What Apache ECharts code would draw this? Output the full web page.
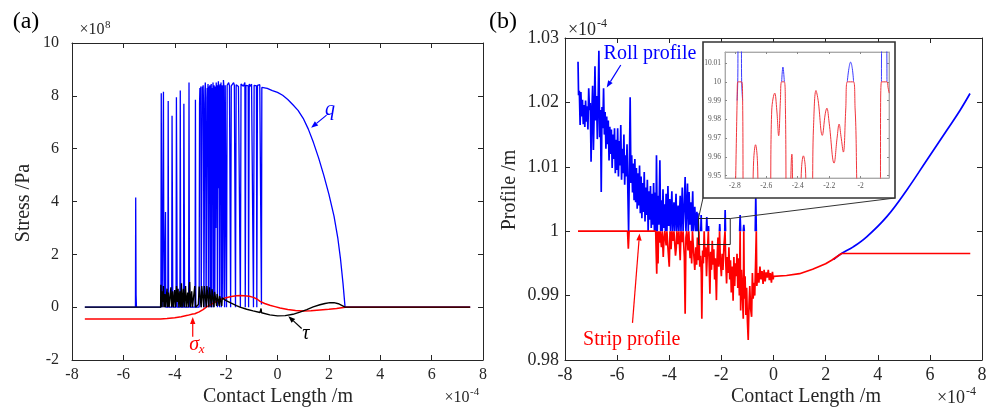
<!DOCTYPE html>
<html><head><meta charset="utf-8">
<script src="https://cdn.jsdelivr.net/npm/echarts@6/dist/echarts.min.js"></script>
<style>html,body{margin:0;padding:0;background:#fff}#main{width:997px;height:411px}</style>
</head><body><div id="main"></div>
<script>
// ---------------- DATA ----------------
// Panel (a): contact length (x1e-4 m) vs stress (x1e8 Pa)
const stressQ = [
[-7.5,0],[-5.53,0],[-5.52,4.15],[-5.505,0.45],[-5.49,0],
[-4.54,0],[-4.525,8.1],[-4.51,0.9],[-4.49,0],
[-4.455,0],[-4.44,8.15],[-4.425,2.0],[-4.41,0],
[-4.37,0],[-4.36,3.6],[-4.35,0],
[-4.27,0],[-4.255,7.8],[-4.24,0.5],[-4.225,0],
[-4.12,0],[-4.105,7.25],[-4.09,3.8],[-4.075,0],
[-3.95,0],[-3.935,7.95],[-3.92,4.4],[-3.905,0],
[-3.80,0],[-3.785,8.2],[-3.77,1.0],[-3.755,0],
[-3.66,0],[-3.645,7.7],[-3.63,3.9],[-3.615,0],
[-3.46,0],[-3.445,8.5],[-3.43,1.5],[-3.415,0],
[-3.21,0],[-3.195,7.85],[-3.18,0],
[-3.05,0],[-3.035,7.7],[-3.02,8.3],[-3.0,7.75],[-2.985,8.35],[-2.97,0],
[-2.94,0],[-2.925,8.35],[-2.91,7.9],[-2.895,8.4],[-2.88,7.7],[-2.865,0],
[-2.84,0],[-2.825,8.2],[-2.81,8.5],[-2.795,7.95],[-2.78,0],
[-2.75,0],[-2.735,8.3],[-2.72,8.0],[-2.705,8.45],[-2.69,0],
[-2.665,8.35],[-2.65,6.2],[-2.635,8.4],[-2.62,0],
[-2.595,8.2],[-2.58,8.45],[-2.565,0],
[-2.54,8.3],[-2.525,7.2],[-2.51,8.5],[-2.495,0],
[-2.47,8.4],[-2.455,8.2],[-2.44,0.2],
[-2.415,8.35],[-2.40,3.0],[-2.385,8.5],[-2.37,5.2],[-2.355,8.4],[-2.34,0],
[-2.315,8.3],[-2.30,8.55],[-2.285,4.5],[-2.27,8.4],[-2.255,0],
[-2.23,8.45],[-2.215,5.9],[-2.20,8.5],[-2.185,0],
[-2.16,8.4],[-2.145,8.3],[-2.13,0.3],
[-2.105,8.6],[-2.09,8.4],[-2.075,8.45],[-2.06,0],
[-2.035,8.4],[-2.02,8.35],[-2.0,8.45],[-1.985,0],
[-1.96,8.4],[-1.93,8.35],[-1.9,8.5],[-1.87,8.38],[-1.84,8.42],[-1.825,0],
[-1.80,8.38],[-1.77,8.45],[-1.74,8.36],[-1.71,8.5],[-1.68,8.4],[-1.65,8.38],[-1.635,0],
[-1.61,8.42],[-1.58,8.36],[-1.55,8.44],[-1.52,8.35],[-1.49,8.42],[-1.46,8.4],[-1.445,0],
[-1.42,8.45],[-1.39,8.38],[-1.36,8.42],[-1.33,8.36],[-1.30,8.4],[-1.27,8.5],[-1.255,0],
[-1.23,8.4],[-1.20,8.35],[-1.17,8.42],[-1.14,8.38],[-1.125,0],
[-1.10,8.45],[-1.07,8.36],[-1.04,8.4],[-1.01,8.44],[-0.98,8.37],[-0.95,8.42],[-0.935,0],
[-0.91,8.4],[-0.88,8.36],[-0.85,8.45],[-0.82,8.38],[-0.805,0],
[-0.78,8.4],[-0.75,8.44],[-0.72,8.36],[-0.69,8.42],[-0.66,8.38],[-0.625,0.1],[-0.61,8.32],
[-0.4,8.28],[-0.2,8.2],[0,8.13],[0.2,8.02],[0.4,7.86],[0.6,7.66],[0.8,7.45],[1.0,7.15],
[1.2,6.74],[1.4,6.23],[1.6,5.65],[1.8,5.0],[2.0,4.28],[2.2,3.45],[2.35,2.6],[2.45,1.85],
[2.55,0.9],[2.63,0],[7.5,0]
];
const stressSigma = [
[-7.5,-0.45],[-4.55,-0.45],[-4.3,-0.43],[-4.0,-0.40],[-3.75,-0.36],[-3.5,-0.31],[-3.3,-0.26],
[-3.22,-0.25],[-3.2,-0.19],[-3.18,-0.24],[-3.05,-0.18],[-2.9,-0.09],[-2.76,0.01],[-2.6,0.10],
[-2.4,0.2],[-2.2,0.29],[-2.0,0.36],[-1.8,0.40],[-1.6,0.43],[-1.45,0.44],[-1.3,0.43],[-1.28,0.38],
[-1.26,0.43],[-1.1,0.41],[-0.94,0.37],[-0.8,0.31],[-0.68,0.22],[-0.5,0.14],[-0.3,0.07],[-0.1,0.02],
[0.1,-0.03],[0.4,-0.09],[0.7,-0.13],[1.0,-0.145],[1.3,-0.14],[1.65,-0.11],[2.0,-0.08],[2.3,-0.05],
[2.63,0],[7.5,0]
];
const stressTau = [
[-7.5,0],[-4.55,0],[-4.54,0.85],[-4.52,0.3],[-4.5,0],[-4.48,0.6],[-4.46,0.2],[-4.44,0.8],[-4.42,0],
[-4.38,0.5],[-4.36,0],[-4.3,0.7],[-4.28,0],[-4.25,0.55],[-4.22,0],[-4.15,0.75],[-4.12,0],[-4.08,0.6],
[-4.05,0],[-4.0,0.65],[-3.97,0],[-3.93,0.8],[-3.9,0.2],[-3.87,0.7],[-3.84,0],[-3.8,0.6],[-3.77,0],
[-3.74,0.9],[-3.71,0],[-3.66,0.7],[-3.63,0],[-3.58,0.8],[-3.55,0],[-3.5,0.55],[-3.47,0],[-3.42,0.95],
[-3.39,0],[-3.34,0.6],[-3.31,0],[-3.22,0.8],[-3.19,0],[-3.08,0.1],[-3.05,0.78],[-3.0,0.8],[-2.97,0],
[-2.95,0.8],[-2.9,0.82],[-2.87,0],[-2.85,0.8],[-2.8,0.8],[-2.77,0],[-2.75,0.8],[-2.7,0.78],[-2.67,0],
[-2.65,0.75],[-2.6,0.72],[-2.57,0],[-2.55,0.68],[-2.5,0.62],[-2.47,0],[-2.45,0.58],[-2.4,0.52],
[-2.37,0.05],[-2.35,0.5],[-2.3,0.45],[-2.27,0.05],[-2.25,0.42],[-2.2,0.38],[-2.17,0.05],[-2.15,0.35],
[-2.1,0.31],[-2.0,0.25],[-1.8,0.15],[-1.6,0.06],[-1.46,0.0],[-1.2,-0.08],[-0.95,-0.14],[-0.68,-0.2],
[-0.64,-0.05],[-0.62,-0.21],[-0.3,-0.29],[0.0,-0.33],[0.3,-0.32],[0.6,-0.27],[0.87,-0.19],[1.14,-0.09],
[1.39,0.01],[1.65,0.09],[1.85,0.14],[2.04,0.17],[2.2,0.17],[2.37,0.13],[2.5,0.07],[2.63,0],[7.5,0]
];

// Panel (b): contact length (x1e-4 m) vs profile (x1e-4 m)
const rollProfile = [
[-7.5,1.0263],[-7.48,1.0211],[-7.45,1.0218],[-7.42,1.0165],[-7.39,1.0216],[-7.36,1.0178],[-7.33,1.0204],
[-7.3,1.0166],[-7.27,1.0196],[-7.24,1.0162],[-7.21,1.0203],[-7.18,1.0170],[-7.15,1.0194],[-7.12,1.0158],
[-7.09,1.0222],[-7.06,1.0188],[-7.03,1.0199],[-7.0,1.0108],[-6.97,1.0185],[-6.94,1.0226],[-6.91,1.0126],
[-6.88,1.0183],[-6.85,1.0256],[-6.82,1.0172],[-6.79,1.0210],[-6.76,1.0143],[-6.73,1.0198],[-6.7,1.0280],
[-6.67,1.0146],[-6.64,1.0188],[-6.61,1.0061],[-6.58,1.0193],[-6.55,1.0160],[-6.52,1.0222],[-6.49,1.0150],
[-6.46,1.0185],[-6.43,1.0128],[-6.4,1.0178],[-6.37,1.0135],[-6.34,1.0172],[-6.31,1.0110],[-6.28,1.0162],
[-6.25,1.0120],[-6.22,1.0158],[-6.19,1.0098],[-6.16,1.0150],[-6.13,1.0112],[-6.1,1.0160],[-6.07,1.0090],
[-6.04,1.0142],[-6.01,1.0095],[-5.98,1.0160],[-5.95,1.0085],[-5.92,1.0140],[-5.89,1.0102],[-5.86,1.0165],
[-5.83,1.0080],[-5.8,1.0128],[-5.77,1.0090],[-5.74,1.0150],[-5.71,1.0072],[-5.68,1.0118],[-5.65,1.0085],
[-5.62,1.0135],[-5.59,1.0065],[-5.56,1.0],[-5.53,1.0098],[-5.5,1.0208],[-5.47,1.0075],[-5.44,1.0118],
[-5.41,1.0060],[-5.38,1.0105],[-5.35,1.0048],[-5.32,1.0112],[-5.29,1.0045],[-5.26,1.0098],[-5.23,1.0035],
[-5.2,1.0090],[-5.17,1.0040],[-5.14,1.0102],[-5.11,1.0028],[-5.08,1.0085],[-5.05,1.0020],[-5.02,1.0075],
[-4.99,1.0030],[-4.96,1.0092],[-4.93,1.0015],[-4.9,1.0068],[-4.87,1.0025],[-4.84,1.0080],[-4.81,1.0],
[-4.78,1.0062],[-4.75,1.0018],[-4.72,1.0070],[-4.69,1.0005],[-4.66,1.0058],[-4.63,1.0010],[-4.6,1.0075],
[-4.57,1.0],[-4.54,1.0060],[-4.51,1.0],[-4.49,1.0118],[-4.46,1.0],[-4.43,1.0055],[-4.4,1.0010],
[-4.36,1.0110],[-4.33,1.0],[-4.3,1.0048],[-4.27,1.0],[-4.24,1.0065],[-4.21,1.0005],[-4.18,1.0042],
[-4.15,1.0],[-4.12,1.0058],[-4.09,1.0],[-4.05,1.0070],[-4.02,1.0008],[-3.98,1.0050],[-3.95,1.0],
[-3.9,1.0062],[-3.87,1.0],[-3.82,1.0045],[-3.79,1.0],[-3.74,1.0058],[-3.71,1.0],[-3.66,1.0040],[-3.63,1.0],
[-3.58,1.0055],[-3.55,1.0],[-3.5,1.0068],[-3.47,1.0],[-3.42,1.0045],[-3.39,1.0084],[-3.36,1.0],
[-3.3,1.0074],[-3.27,1.0],[-3.24,1.0061],[-3.2,1.0010],[-3.17,1.0045],[-3.14,1.0],[-3.1,1.0062],
[-3.07,1.0],[-3.02,1.0038],[-2.98,1.0],[-2.94,1.0030],[-2.92,1.0],[-2.9,1.0028],[-2.87,1.0],[-2.86,null],
[-2.79,1.0],[-2.775,1.0025],[-2.76,1.0],[-2.755,null],
[-2.58,1.0],[-2.56,1.0022],[-2.54,1.0],[-2.535,null],
[-2.50,1.0],[-2.494,1.0008],[-2.485,1.0],[-2.48,null],
[-2.075,1.0],[-2.064,1.0011],[-2.05,1.0],[-2.045,null],
[-1.87,1.0],[-1.855,1.0033],[-1.84,1.0],[-1.835,null],
[-1.3,1.0],[-1.28,1.0025],[-1.26,1.0],[-1.255,null],
[-1.16,1.0],[-1.14,1.0010],[-1.12,1.0],[-1.115,null],
[-0.7,1.0],[-0.68,1.0056],[-0.66,1.0]
];
const rollProfileTail = [
[2.3,0.9956],[2.61,0.99654],[3.06,0.99756],[3.575,0.99912],[4.34,1.00222],[5.11,1.00637],
[5.88,1.01102],[6.65,1.01568],[7.16,1.01879],[7.54,1.02138]
];
const stripProfile = [
[-7.5,1.0],[-5.6,1.0],[-5.57,0.9973],[-5.54,1.0],[-4.52,1.0],
[-4.5,0.9965],[-4.48,0.9934],[-4.46,1.0],[-4.43,0.9950],[-4.41,1.0],[-4.38,0.9982],[-4.35,1.0],
[-4.3,0.9975],[-4.27,1.0],[-4.23,0.9960],[-4.2,0.9990],[-4.17,1.0],[-4.12,0.9978],[-4.09,1.0],
[-4.04,0.9968],[-4.0,0.9945],[-3.97,1.0],[-3.93,0.9972],[-3.9,1.0],[-3.85,0.9985],[-3.82,1.0],
[-3.76,0.9962],[-3.73,0.9975],[-3.71,1.0],[-3.66,0.9980],[-3.63,1.0],[-3.58,0.9955],[-3.55,1.0],
[-3.5,0.9983],[-3.47,1.0],[-3.42,0.9960],[-3.39,0.9872],[-3.36,0.9990],[-3.33,1.0],[-3.28,0.9970],
[-3.25,1.0],[-3.2,0.9958],[-3.17,0.9985],[-3.14,0.9950],[-3.11,1.0],[-3.06,0.9965],[-3.02,0.9940],
[-2.98,0.9975],[-2.95,0.9948],[-2.92,0.9990],[-2.89,0.9955],[-2.86,1.0],[-2.83,0.9945],[-2.8,0.9962],
[-2.77,0.9935],[-2.75,0.9864],[-2.72,0.9970],[-2.69,0.9950],[-2.66,1.0],[-2.63,0.9960],[-2.6,0.9975],
[-2.57,0.9930],[-2.54,0.9965],[-2.5,1.0],[-2.47,0.9952],[-2.44,0.9903],[-2.41,0.9968],[-2.38,0.9940],
[-2.35,0.9985],[-2.32,0.9948],[-2.29,0.9972],[-2.26,0.9925],[-2.23,0.9958],[-2.19,0.9893],[-2.16,0.9962],
[-2.13,0.9990],[-2.1,0.9945],[-2.07,1.0],[-2.04,0.9955],[-2.0,0.9930],[-1.97,0.9965],[-1.94,0.9940],
[-1.9,0.9978],[-1.86,1.0],[-1.83,0.9950],[-1.8,0.9919],[-1.77,0.9960],[-1.74,0.9935],[-1.71,0.9975],
[-1.68,0.9925],[-1.65,0.9955],[-1.62,0.9905],[-1.58,0.9945],[-1.55,0.9892],[-1.52,0.9960],[-1.49,0.9915],
[-1.46,0.9950],[-1.43,0.9930],[-1.4,0.9965],[-1.37,0.9912],[-1.34,0.9958],[-1.31,0.9900],[-1.28,1.0],
[-1.26,0.9877],[-1.23,0.9940],[-1.2,0.9910],[-1.16,0.9864],[-1.14,1.0],[-1.12,0.9895],[-1.09,0.9930],
[-1.06,0.9870],[-1.03,0.9912],[-1.0,0.9860],[-0.97,0.9831],[-0.94,0.9885],[-0.91,0.9915],[-0.88,0.9880],
[-0.84,0.9867],[-0.81,0.9935],[-0.78,0.9895],[-0.75,0.9920],[-0.72,0.9900],[-0.69,0.9945],[-0.66,1.0],
[-0.64,0.9915],[-0.6,0.9935],[-0.56,0.9920],[-0.52,0.9945],[-0.48,0.9925],[-0.44,0.9938],[-0.4,0.9918],
[-0.36,0.9940],[-0.32,0.9922],[-0.28,0.9936],[-0.24,0.9928],[-0.2,0.9940],[-0.16,0.9924],[-0.12,0.9935],
[-0.08,0.9920],[-0.04,0.9937],[-0.01,0.9925],[0,0.9930],[0.5,0.99312],[1.0,0.9934],[1.5,0.9941],
[2.0,0.99495],[2.23,0.9955],[2.61,0.99654],[7.55,0.99654]
];

// Inset of panel (b): x1e-4 m vs x1e-5 m
const insetRoll = [
[-2.785,9.99],[-2.781,10.0],[-2.777,10.03],[-2.760,10.03],[-2.756,10.0],[-2.750,9.99],[-2.749,null],
[-2.502,10.0],[-2.494,10.0079],[-2.485,10.0],[-2.484,null],
[-2.085,10.0],[-2.075,10.007],[-2.064,10.0105],[-2.053,10.007],[-2.045,10.0],[-2.044,null],
[-1.868,10.0],[-1.864,10.03],[-1.838,10.03],[-1.833,10.0]
];
const insetStrip = [
[-2.80,9.92],[-2.785,9.99],[-2.781,10.0],[-2.756,10.0],[-2.750,9.99],[-2.743,9.92],
[-2.695,9.92],[-2.68,9.958],[-2.668,9.9665],[-2.656,9.958],[-2.645,9.92],
[-2.58,9.92],[-2.565,9.985],[-2.546,9.994],[-2.533,9.985],[-2.521,9.9713],[-2.51,9.990],[-2.502,10.0],
[-2.485,10.0],[-2.478,9.985],[-2.468,9.92],
[-2.452,9.93],[-2.437,9.9615],[-2.422,9.93],
[-2.39,9.93],[-2.375,9.955],[-2.364,9.9606],[-2.352,9.955],[-2.338,9.93],
[-2.315,9.93],[-2.30,9.975],[-2.284,9.9954],[-2.27,9.990],[-2.244,9.9715],[-2.225,9.983],[-2.215,9.986],
[-2.2,9.978],[-2.169,9.9567],[-2.15,9.970],[-2.137,9.9775],[-2.125,9.971],[-2.110,9.9626],[-2.095,9.985],
[-2.085,10.0],[-2.045,10.0],[-2.035,9.985],[-2.0,9.93],
[-1.88,9.93],[-1.868,10.0],[-1.833,10.0],[-1.826,9.997],[-1.819,9.994]
];

const xTicksMain = [-8, 8, 2];
const yTicksA = [-2, 10, 2];
const yTicksB = [0.98, 1.03, 0.01];
const insetXRange = [-2.862, -1.82];
const insetYRange = [9.9488, 10.0159];
const insetXTicks = [-2.8, -2.6, -2.4, -2.2, -2];
const insetYTicks = [9.95, 9.96, 9.97, 9.98, 9.99, 10, 10.01];
const zoomBoxX = [-2.88, -1.66];
const zoomBoxY = [0.99793, 1.00197];

// ---------------- CHART ----------------
const AX = '#262626';
const FONT = '"Liberation Serif", "Times New Roman", Times, serif';
const BLUE = '#0000ff', RED = '#ff0000', BLACK = '#000000';

function mkAxis(grid, min, max, interval, pos, showLabel, fs, margin, opts) {
  opts = opts || {};
  const a = {
    type: 'value', gridIndex: grid, min: min, max: max, position: pos, scale: false,
    z: opts.z || 0,
    axisLine: { show: true, onZero: false, lineStyle: { color: opts.lineColor || AX, width: opts.lineWidth || 1 } },
    axisTick: { show: true, inside: true, length: opts.tickLen || 5, lineStyle: { color: opts.tickColor || AX, width: 1 } },
    axisLabel: { show: showLabel, color: opts.labelColor || AX, fontFamily: FONT, fontSize: fs, margin: margin,
      fontStyle: 'normal', fontWeight: 'normal',
      showMinLabel: true, showMaxLabel: true, hideOverlap: false,
      formatter: function (v) { return String(+(+v).toFixed(3)); } },
    splitLine: { show: false }
  };
  if (interval) a.interval = interval;
  if (opts.custom) {
    a.axisTick.customValues = opts.custom;
    a.axisLabel.customValues = opts.custom;
  }
  return a;
}

const chart = echarts.init(document.getElementById('main'), null, { renderer: 'canvas' });

const insetOpts = { z: 5, lineColor: '#aaa', tickColor: '#888', labelColor: '#555', tickLen: 2 };
const xAxes = [
  mkAxis(0, xTicksMain[0], xTicksMain[1], xTicksMain[2], 'bottom', true, 16, 7),
  mkAxis(0, xTicksMain[0], xTicksMain[1], xTicksMain[2], 'top', false, 16, 7),
  mkAxis(1, xTicksMain[0], xTicksMain[1], xTicksMain[2], 'bottom', true, 18, 6),
  mkAxis(1, xTicksMain[0], xTicksMain[1], xTicksMain[2], 'top', false, 18, 6),
  mkAxis(2, insetXRange[0], insetXRange[1], null, 'bottom', true, 7.5, 4, Object.assign({ custom: insetXTicks }, insetOpts)),
  mkAxis(2, insetXRange[0], insetXRange[1], null, 'top', false, 7.5, 4, Object.assign({ custom: insetXTicks }, insetOpts))
];
const yAxes = [
  mkAxis(0, yTicksA[0], yTicksA[1], yTicksA[2], 'left', true, 16, 13),
  mkAxis(0, yTicksA[0], yTicksA[1], yTicksA[2], 'right', false, 16, 13),
  mkAxis(1, yTicksB[0], yTicksB[1], yTicksB[2], 'left', true, 18, 6),
  mkAxis(1, yTicksB[0], yTicksB[1], yTicksB[2], 'right', false, 18, 6),
  mkAxis(2, insetYRange[0], insetYRange[1], null, 'left', true, 7.5, 4, Object.assign({ custom: insetYTicks }, insetOpts)),
  mkAxis(2, insetYRange[0], insetYRange[1], null, 'right', false, 7.5, 4, Object.assign({ custom: insetYTicks }, insetOpts))
];

function line(data, color, xi, yi, w, z, smooth) {
  return { type: 'line', data: data, xAxisIndex: xi, yAxisIndex: yi, showSymbol: false, symbol: 'none',
    lineStyle: { color: color, width: w }, itemStyle: { color: color }, z: z, clip: true,
    smooth: smooth || false, connectNulls: false, animation: false, silent: true };
}

chart.setOption({
  animation: false,
  backgroundColor: '#ffffff',
  textStyle: { fontFamily: FONT },
  grid: [
    { left: 72, top: 43, width: 411, height: 317, containLabel: false },
    { left: 565, top: 38, width: 417, height: 322, containLabel: false },
    { left: 725, top: 52, width: 164, height: 126, containLabel: false, show: true,
      backgroundColor: '#ffffff', borderColor: '#bbbbbb', borderWidth: 1, z: 4 }
  ],
  xAxis: xAxes,
  yAxis: yAxes,
  series: [
    line(stressQ, BLUE, 0, 0, 1.3, 2),
    line(stressSigma, RED, 0, 0, 1.5, 2),
    line(stressTau, BLACK, 0, 0, 1.4, 2),
    line(rollProfile, BLUE, 2, 2, 1.7, 2),
    line(rollProfileTail, BLUE, 2, 2, 1.7, 2, 0.4),
    line(stripProfile, RED, 2, 2, 1.7, 2),
    line(insetRoll, '#3b3bff', 4, 4, 1, 6, 0.4),
    line(insetStrip, '#f0353c', 4, 4, 1, 6, 0.4)
  ]
});

// ---------------- ANNOTATIONS ----------------
function P(ax, pt) { return chart.convertToPixel({ xAxisIndex: ax, yAxisIndex: ax }, pt); }
function txt(x, y, s, font, fill, align, rot, z) {
  return { type: 'text', x: x, y: y, rotation: rot || 0, z: z || 10,
    style: { text: s, font: font, fill: fill, align: align || 'center', verticalAlign: 'middle' } };
}
function arrow(p1, p2, color, head, w) {
  head = head || 7; w = w || 1;
  const ang = Math.atan2(p2[1] - p1[1], p2[0] - p1[0]);
  const hx = p2[0] - head * Math.cos(ang), hy = p2[1] - head * Math.sin(ang);
  const px = -Math.sin(ang) * head * 0.38, py = Math.cos(ang) * head * 0.38;
  return [
    { type: 'line', z: 10, shape: { x1: p1[0], y1: p1[1], x2: hx, y2: hy }, style: { stroke: color, lineWidth: w } },
    { type: 'polygon', z: 10, shape: { points: [[p2[0], p2[1]], [hx + px, hy + py], [hx - px, hy - py]] }, style: { fill: color } }
  ];
}

const serif = function (sz, it) { return (it ? 'italic ' : '') + sz + 'px ' + FONT; };
const g = [];
g.push(txt(26, 22, '(a)', serif(24), '#000'));
g.push(txt(503, 22, '(b)', serif(24), '#000'));
// exponents
g.push(txt(92, 30, '×10', serif(16), AX));
g.push(txt(105, 25, '8', serif(11), AX, 'left'));
g.push(txt(457, 398, '×10', serif(16), AX));
g.push(txt(470, 392, '-4', serif(11), AX, 'left'));
g.push(txt(582, 30, '×10', serif(18), AX));
g.push(txt(597, 24, '-4', serif(12), AX, 'left'));
g.push(txt(951, 398, '×10', serif(18), AX));
g.push(txt(966, 392, '-4', serif(12), AX, 'left'));
// axis titles
g.push(txt(278, 397, 'Contact Length /m', serif(20), AX));
g.push(txt(806, 397, 'Contact Length /m', serif(20), AX));
g.push(txt(24, 203, 'Stress /Pa', serif(20), AX, 'center', Math.PI / 2));
g.push(txt(510, 190, 'Profile /m', serif(20), AX, 'center', Math.PI / 2));

// panel (a) annotations (data coordinates)
let p = P(0, [2.04, 7.46]); g.push(txt(p[0], p[1], 'q', serif(20, true), BLUE));
arrow(P(0, [1.91, 7.27]), P(0, [1.31, 6.79]), BLUE, 7, 1.2).forEach(e => g.push(e));
p = P(0, [1.10, -1.0]); g.push(txt(p[0], p[1], 'τ', serif(20, true), BLACK));
arrow(P(0, [0.94, -0.81]), P(0, [0.42, -0.34]), BLACK, 7, 1.2).forEach(e => g.push(e));
p = P(0, [-3.24, -1.44]); g.push(txt(p[0], p[1], 'σ', serif(20, true), RED));
p = P(0, [-2.95, -1.60]); g.push(txt(p[0], p[1], 'x', serif(13, true), RED));
arrow(P(0, [-3.30, -1.12]), P(0, [-3.30, -0.37]), RED, 7, 1.2).forEach(e => g.push(e));

// panel (b) annotations
p = P(2, [-4.74, 1.0276]); g.push(txt(p[0], p[1], 'Roll profile', serif(20), BLUE));
arrow(P(2, [-5.86, 1.0258]), P(2, [-6.40, 1.0223]), BLUE, 7, 1.2).forEach(e => g.push(e));
p = P(2, [-5.44, 0.98307]); g.push(txt(p[0], p[1], 'Strip profile', serif(20), RED));
arrow(P(2, [-5.41, 0.98576]), P(2, [-5.14, 0.99964]), RED, 7, 1.2).forEach(e => g.push(e));

// zoom rectangle and connectors
const r1 = P(2, [zoomBoxX[0], zoomBoxY[1]]);
const r2 = P(2, [zoomBoxX[1], zoomBoxY[0]]);
g.push({ type: 'rect', z: 3, shape: { x: r1[0], y: r1[1], width: r2[0] - r1[0], height: r2[1] - r1[1] },
  style: { fill: null, stroke: '#222', lineWidth: 1 } });
const box = { x: 703, y: 42, w: 192, h: 156 };
g.push({ type: 'line', z: 3, shape: { x1: box.x, y1: box.y + box.h, x2: r1[0], y2: r1[1] }, style: { stroke: '#333', lineWidth: 1 } });
g.push({ type: 'line', z: 3, shape: { x1: box.x + box.w, y1: box.y + box.h, x2: r2[0], y2: r1[1] }, style: { stroke: '#333', lineWidth: 1 } });
g.push({ type: 'rect', z: 3, shape: { x: box.x, y: box.y, width: box.w, height: box.h },
  style: { fill: '#ffffff', stroke: '#333', lineWidth: 1.6 } });

chart.setOption({ graphic: { elements: g } });
</script>
</body></html>
